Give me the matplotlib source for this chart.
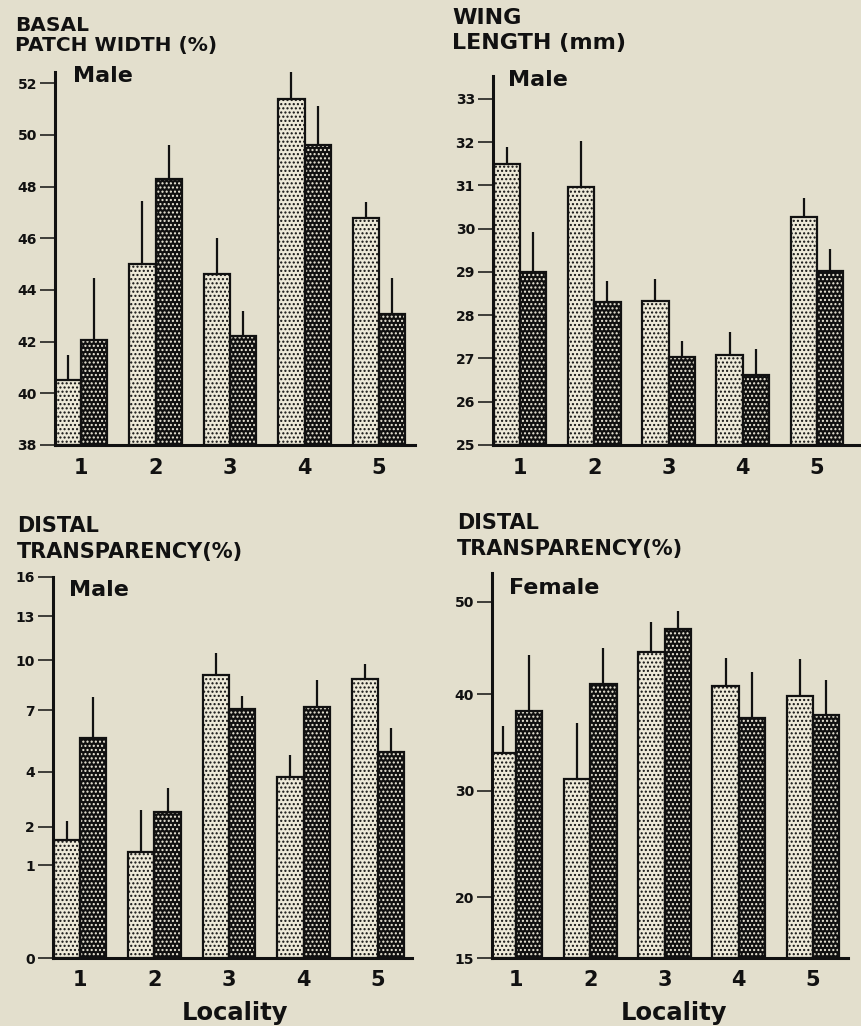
import numpy as np
import matplotlib
matplotlib.use('Agg')
import matplotlib.pyplot as plt

plt.rcParams['font.family'] = ['DejaVu Sans']
plt.rcParams['font.weight'] = 'bold'
plt.rcParams['hatch.linewidth'] = 1.0

localities = [1, 2, 3, 4, 5]

# basal patch width (%), male
bpw_light = [40.5, 45.0, 44.6, 51.4, 46.8]
bpw_light_err = [1.0, 2.45, 1.4, 1.15, 0.6]
bpw_dark = [42.05, 48.3, 42.2, 49.6, 43.05]
bpw_dark_err = [2.4, 1.3, 1.0, 1.5, 1.4]

# wing length (mm), male
wing_light = [31.5, 30.97, 28.33, 27.07, 30.28]
wing_light_err = [0.4, 1.06, 0.5, 0.55, 0.44]
wing_dark = [29.0, 28.3, 27.04, 26.62, 29.03]
wing_dark_err = [0.93, 0.5, 0.37, 0.59, 0.5]

# distal transparency (%), male
dtm_light = [1.62, 1.31, 9.06, 3.76, 8.79]
dtm_light_err = [0.56, 1.22, 1.41, 0.97, 0.96]
dtm_dark = [5.55, 2.48, 7.04, 7.18, 4.88]
dtm_dark_err = [2.2, 0.84, 0.75, 1.57, 1.18]

# distal transparency (%), female
dtf_light = [33.8, 31.2, 44.5, 40.9, 39.8]
dtf_light_err = [2.8, 5.7, 3.3, 3.0, 4.0]
dtf_dark = [38.2, 41.1, 47.0, 37.5, 37.8]
dtf_dark_err = [6.0, 3.8, 2.0, 4.9, 3.7]

bpw_ticks = [38, 40, 42, 44, 46, 48, 50, 52]
wing_ticks = [25, 26, 27, 28, 29, 30, 31, 32, 33]
dtm_ticks = [0, 1, 2, 4, 7, 10, 13, 16]
dtf_ticks = [15, 20, 30, 40, 50]

BG = '#e3dfcd'
LIGHT = '#ede9d8'
DARK = '#101010'

W, H = 862, 1026
fig = plt.figure(figsize=(W / 100, H / 100), dpi=100, facecolor=BG)


def px_axes(l, t, r, b):
    return fig.add_axes([l / W, 1 - b / H, (r - l) / W, (b - t) / H])


def asin_fwd(p):
    p = np.clip(np.asarray(p, dtype=float), 0, 100)
    return np.degrees(np.arcsin(np.sqrt(p / 100.0)))


def asin_inv(d):
    d = np.clip(np.asarray(d, dtype=float), 0, 90)
    return 100.0 * np.sin(np.radians(d)) ** 2


def panel(rect, light, light_err, dark, dark_err, ylim, yticks, xlim,
          arcsine=False):
    ax = px_axes(*rect)
    ax.set_facecolor(BG)
    if arcsine:
        ax.set_yscale('function', functions=(asin_fwd, asin_inv))
    w = 0.355
    x = np.array(localities, dtype=float)
    base = ylim[0]
    lh = np.array(light) - base
    dh = np.array(dark) - base
    # stippled fills
    ax.bar(x - w / 2, lh, w, bottom=base, color=LIGHT, edgecolor='#111111',
           hatch='....', linewidth=0, zorder=2)
    ax.bar(x + w / 2, dh, w, bottom=base, color=DARK, edgecolor='#f0ecdc',
           hatch='....', linewidth=0, zorder=2)
    # outlines
    ax.bar(x - w / 2, lh, w, bottom=base, fill=False, edgecolor='#111111',
           linewidth=1.6, zorder=3)
    ax.bar(x + w / 2, dh, w, bottom=base, fill=False, edgecolor='#111111',
           linewidth=1.6, zorder=3)
    # one-sided error bars
    ax.vlines(x - w / 2, light, np.array(light) + np.array(light_err),
              color='#111111', linewidth=1.6, zorder=3)
    ax.vlines(x + w / 2, dark, np.array(dark) + np.array(dark_err),
              color='#111111', linewidth=1.6, zorder=3)

    ax.set_ylim(*ylim)
    ax.set_xlim(*xlim)
    ax.set_yticks(yticks)
    ax.set_yticklabels([str(t) for t in yticks], fontsize=10, fontweight='bold')
    ax.yaxis.set_minor_locator(matplotlib.ticker.NullLocator())
    ax.set_xticks(localities)
    ax.set_xticklabels([str(v) for v in localities], fontsize=15,
                       fontweight='bold')
    ax.tick_params(axis='y', length=11, width=1.1, pad=2, colors='#111111')
    ax.tick_params(axis='x', length=0, pad=9, colors='#111111')
    for s in ['top', 'right']:
        ax.spines[s].set_visible(False)
    for s in ['left', 'bottom']:
        ax.spines[s].set_linewidth(2.2)
        ax.spines[s].set_color('#111111')
    ax.spines['left'].set_zorder(4)
    return ax


panel((55, 72, 415, 445), bpw_light, bpw_light_err, bpw_dark, bpw_dark_err,
      (38, 52.43), bpw_ticks, (0.651, 5.483))
panel((493, 76, 862, 445), wing_light, wing_light_err, wing_dark, wing_dark_err,
      (25, 33.53), wing_ticks, (0.636, 5.606))
panel((53, 577, 412, 958), dtm_light, dtm_light_err, dtm_dark, dtm_dark_err,
      (0, 16), dtm_ticks, (0.638, 5.456), arcsine=True)
panel((492, 573, 848, 958), dtf_light, dtf_light_err, dtf_dark, dtf_dark_err,
      (15, 53.1), dtf_ticks, (0.677, 5.47), arcsine=True)


def ftext(x, y, s, size, **kw):
    fig.text(x / W, 1 - y / H, s, fontsize=size, fontweight='bold',
             color='#111111', **kw)


ftext(15, 16, 'BASAL\nPATCH WIDTH (%)', 14.5, va='top', linespacing=1.1)
ftext(452, 8, 'WING\nLENGTH (mm)', 16, va='top', linespacing=1.3)
ftext(17, 516, 'DISTAL\nTRANSPARENCY(%)', 15, va='top', linespacing=1.35)
ftext(457, 513, 'DISTAL\nTRANSPARENCY(%)', 15, va='top', linespacing=1.35)

ftext(73, 76, 'Male', 16, va='center')
ftext(508, 80, 'Male', 16, va='center')
ftext(69, 590, 'Male', 16, va='center')
ftext(509, 588, 'Female', 16, va='center')

ftext(235, 1013, 'Locality', 17.5, va='center', ha='center')
ftext(674, 1013, 'Locality', 17.5, va='center', ha='center')

fig.savefig('out.png', dpi=100, facecolor=BG)
